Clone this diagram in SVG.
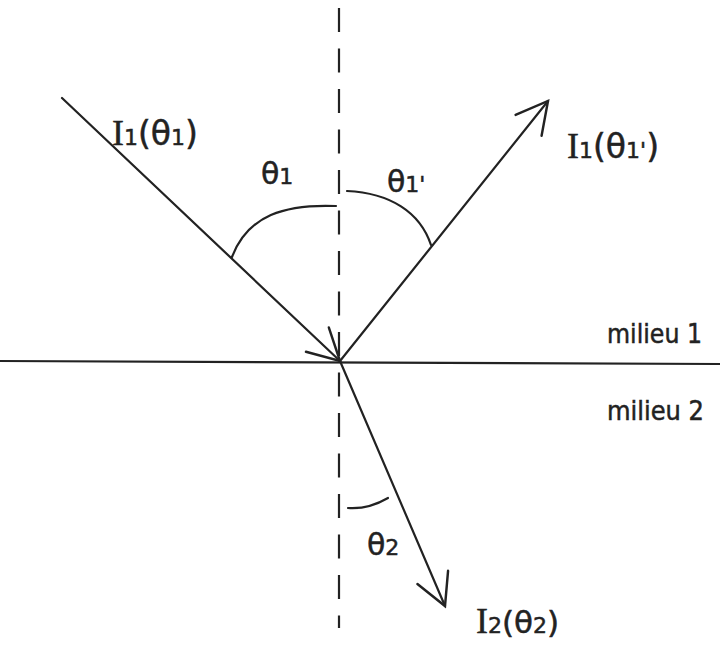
<svg xmlns="http://www.w3.org/2000/svg" width="720" height="645" viewBox="0 0 720 645">
<defs>
<style>
.ln{stroke:#222;stroke-width:2.2;fill:none;stroke-linecap:round}
.dash{stroke:#222;stroke-width:2.2;fill:none;stroke-dasharray:24 16.5}
.t{font-family:"DejaVu Sans","Liberation Sans",sans-serif;fill:#222;stroke:#222;stroke-width:0.5}
.s{font-family:"Liberation Serif","DejaVu Serif",serif;fill:#222;stroke:#222;stroke-width:0.4}
</style>
<marker id="arr" markerUnits="userSpaceOnUse" markerWidth="40" markerHeight="40" viewBox="-32 -18 36 36" refX="0" refY="0" orient="auto">
<path d="M-28,-15 L0,0 L-28,15" fill="none" stroke="#222" stroke-width="2.2" stroke-linecap="round"/>
</marker>
</defs>
<rect width="720" height="645" fill="#fff"/>
<g id="connectors">
<line class="dash" x1="339" y1="8" x2="339" y2="628"/>
<line class="ln" x1="0" y1="361" x2="720" y2="364"/>
<line id="incident" class="ln" x1="62" y1="98" x2="340" y2="361" marker-end="url(#arr)"/>
<line id="reflected" class="ln" x1="340" y1="361" x2="548" y2="101" marker-end="url(#arr)"/>
<line id="refracted" class="ln" x1="340" y1="361" x2="445" y2="606" marker-end="url(#arr)"/>
<path id="arc1" class="ln" d="M232,257 C248,215 285,204 336,206"/>
<path id="arc1p" class="ln" d="M347,191 C390,193 420,212 431,245"/>
<path id="arc2" class="ln" d="M348,508 C362,509 376,505 388,498"/>
</g>
<g id="label-I1-theta1">
<text y="145"><tspan class="s" x="112" font-size="36">I</tspan><tspan class="t" font-size="22">1</tspan><tspan class="t" font-size="33">(θ</tspan><tspan class="t" font-size="22">1</tspan><tspan class="t" font-size="33">)</tspan></text>
</g>
<g id="label-theta1">
<text y="184" class="t"><tspan x="261" font-size="30">θ</tspan><tspan font-size="22">1</tspan></text>
</g>
<g id="label-theta1p">
<text y="192" class="t"><tspan x="387" font-size="30">θ</tspan><tspan font-size="22">1'</tspan></text>
</g>
<g id="label-I1-theta1p">
<text y="158"><tspan class="s" x="567" font-size="36">I</tspan><tspan class="t" font-size="22">1</tspan><tspan class="t" font-size="33">(θ</tspan><tspan class="t" font-size="22">1'</tspan><tspan class="t" font-size="33">)</tspan></text>
</g>
<g id="label-milieu1">
<text class="t" x="607" y="343" font-size="26" textLength="95" lengthAdjust="spacingAndGlyphs">milieu 1</text>
</g>
<g id="label-milieu2">
<text class="t" x="607" y="420" font-size="26" textLength="97" lengthAdjust="spacingAndGlyphs">milieu 2</text>
</g>
<g id="label-theta2">
<text y="555" class="t"><tspan x="367" font-size="30">θ</tspan><tspan font-size="22">2</tspan></text>
</g>
<g id="label-I2-theta2">
<text y="633"><tspan class="s" x="476" font-size="36">I</tspan><tspan class="t" font-size="22">2</tspan><tspan class="t" font-size="31">(θ</tspan><tspan class="t" font-size="22">2</tspan><tspan class="t" font-size="31">)</tspan></text>
</g>
</svg>
